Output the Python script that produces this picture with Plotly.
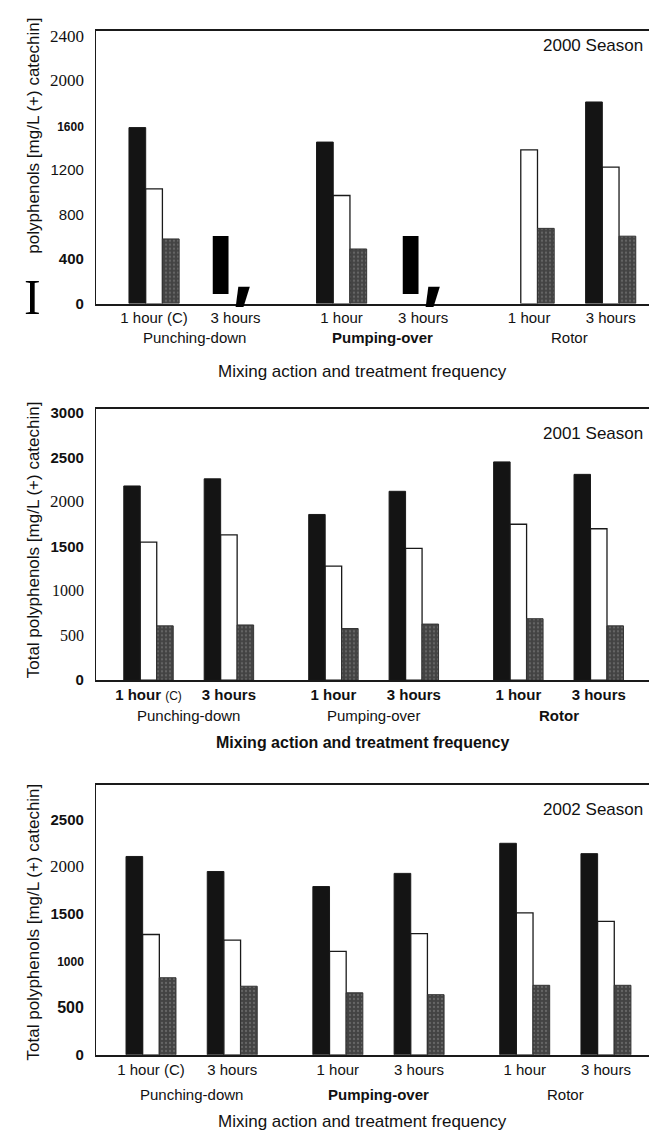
import plotly.graph_objects as go

# ---------------- data ----------------
FREQ_LABELS = ["1 hour (C)", "3 hours", "1 hour", "3 hours", "1 hour", "3 hours"]
ACTIONS = ["Punching-down", "Pumping-over", "Rotor"]
ACTION_OF = [0, 0, 1, 1, 2, 2]
SEASONS = ["2000 Season", "2001 Season", "2002 Season"]
X_TITLE = "Mixing action and treatment frequency"
Y_TITLE = "Total polyphenols [mg/L (+) catechin]"
Y_TITLE_2000 = "polyphenols [mg/L (+) catechin]"

S2000_DARK = [1580, None, 1450, None, None, 1810]
S2000_WHITE = [1030, None, 970, None, 1380, 1225]
S2000_GREY = [580, None, 490, None, 675, 605]

S2001_DARK = [2180, 2260, 1860, 2120, 2450, 2310]
S2001_WHITE = [1550, 1630, 1280, 1480, 1750, 1700]
S2001_GREY = [610, 620, 580, 630, 690, 610]

S2002_DARK = [2110, 1950, 1790, 1930, 2250, 2140]
S2002_WHITE = [1280, 1220, 1100, 1290, 1510, 1420]
S2002_GREY = [820, 730, 660, 640, 740, 740]

Y_TICKS_2000 = [0, 400, 800, 1200, 1600, 2000, 2400]
Y_TICKS_2001 = [0, 500, 1000, 1500, 2000, 2500, 3000]
Y_TICKS_2002 = [0, 500, 1000, 1500, 2000, 2500]

# ---------------- styles ----------------
W, H = 649, 1138
SANS = "Liberation Sans"
SERIF = "Liberation Serif"
GROUP_GAP = 0.3

PANELS = [
    dict(top=26, bottom=302, yr=[0, 2450], xr=[-0.712, 6.07], season_dy=15,
         grp_dy=34, title_dy=68, ytitle_dy=31),
    dict(top=409, bottom=683, yr=[0, 3040], xr=[-0.653, 6.225], season_dy=24,
         grp_dy=35, title_dy=62, ytitle_dy=5),
    dict(top=789, bottom=1062, yr=[0, 2870], xr=[-0.677, 6.13], season_dy=25,
         grp_dy=40, title_dy=67, ytitle_dy=-2),
]
TICK_STYLES = [
    ["b15", "b15", "r15", "r15", "b12", "s17", "s17"],
    ["b15", "s16", "s16", "b15", "s17", "b15", "b15"],
    ["b15", "b16", "b12", "b15", "s17", "b15"],
]
GROUP_BOLD = [[False, True, False], [False, False, True], [False, True, False]]
XTITLE_BOLD = [False, True, False]

DARK = "#141414"
GREY_BG = "#434343"
GREY_FG = "#8a8a8a"
LINE = "#1a1a1a"


def styled_tick(val, code):
    kind, size = code[0], int(code[1:])
    fam = SERIF if kind == "s" else SANS
    txt = f"<b>{val}</b>" if kind == "b" else f"{val}"
    return f"<span style=\"font-family:'{fam}';font-size:{size}px\">{txt}</span>"


xpos = [i + ACTION_OF[i] * GROUP_GAP for i in range(len(FREQ_LABELS))]
group_centers = [
    sum(p for p, a in zip(xpos, ACTION_OF) if a == g) / ACTION_OF.count(g)
    for g in range(len(ACTIONS))
]

series = [
    (S2000_DARK, S2000_WHITE, S2000_GREY, Y_TICKS_2000),
    (S2001_DARK, S2001_WHITE, S2001_GREY, Y_TICKS_2001),
    (S2002_DARK, S2002_WHITE, S2002_GREY, Y_TICKS_2002),
]

fig = go.Figure()
annotations = []
layout = {}

for k, (dark, white, grey, yt) in enumerate(series):
    n = "" if k == 0 else str(k + 1)
    xa, ya = "x" + n, "y" + n
    p = PANELS[k]
    fig.add_trace(go.Bar(x=xpos, y=dark, xaxis=xa, yaxis=ya, name="Dark",
                         marker=dict(color=DARK, line=dict(color=LINE, width=1))))
    fig.add_trace(go.Bar(x=xpos, y=white, xaxis=xa, yaxis=ya, name="White",
                         marker=dict(color="white", line=dict(color=LINE, width=1.3))))
    fig.add_trace(go.Bar(x=xpos, y=grey, xaxis=xa, yaxis=ya, name="Grey",
                         marker=dict(color=GREY_BG, line=dict(color="#333", width=1),
                                     pattern=dict(shape=".", fgcolor=GREY_FG, bgcolor=GREY_BG,
                                                  size=4, solidity=0.25))))

    if k == 1:
        ticktext = [f"<b>{t.replace(' (C)', '')}</b>" + (" <span style='font-size:12px'>(C)</span>" if "(C)" in t else "")
                    for t in FREQ_LABELS]
    else:
        ticktext = list(FREQ_LABELS)

    layout["xaxis" + n] = dict(
        domain=[96 / W, 1], range=p["xr"], anchor=ya,
        tickmode="array", tickvals=xpos, ticktext=ticktext,
        tickfont=dict(family=SANS, size=15, color="#111"),
        showgrid=False, zeroline=False, showline=True, linecolor=LINE,
        linewidth=1.6, mirror=True, ticks="",
    )
    layout["yaxis" + n] = dict(
        domain=[1 - p["bottom"] / H, 1 - p["top"] / H], range=p["yr"], anchor=xa,
        tickmode="array", tickvals=yt,
        ticktext=[styled_tick(v, c) for v, c in zip(yt, TICK_STYLES[k])],
        tickfont=dict(family=SANS, size=15, color="#111"),
        showgrid=False, zeroline=False, showline=True, linecolor=LINE,
        linewidth=1.2, mirror=False, ticks="", ticklabelstandoff=8,
    )

    yd = ya + " domain"
    annotations.append(dict(text=SEASONS[k], xref="paper", x=645 / W, xanchor="right",
                            yref=yd, y=1, yshift=-p["season_dy"], yanchor="middle",
                            showarrow=False, font=dict(family=SANS, size=17, color="#111")))
    for g, name in enumerate(ACTIONS):
        annotations.append(dict(text=f"<b>{name}</b>" if GROUP_BOLD[k][g] else name,
                                xref=xa, x=group_centers[g], yref=yd, y=0,
                                yshift=-p["grp_dy"], yanchor="middle", showarrow=False,
                                font=dict(family=SANS, size=15, color="#111")))
    annotations.append(dict(text=f"<b>{X_TITLE}</b>" if XTITLE_BOLD[k] else X_TITLE,
                            xref="paper", x=363 / W, yref=yd, y=0,
                            yshift=-p["title_dy"], yanchor="middle", showarrow=False,
                            font=dict(family=SANS, size=16 if XTITLE_BOLD[k] else 17, color="#111")))
    annotations.append(dict(text=Y_TITLE_2000 if k == 0 else Y_TITLE, textangle=-90,
                            xref="paper", x=22 / W, yref=yd, y=0.5, yshift=p["ytitle_dy"],
                            showarrow=False, font=dict(family=SANS, size=17, color="#111")))

# scan artefacts that appear as text in the reference panel 1
annotations.append(dict(text="I", xref="paper", x=22 / W, yref="paper", y=1 - 295 / H,
                        yanchor="middle", showarrow=False,
                        font=dict(family=SERIF, size=50, color="#000")))
for xl in (207, 397):
    annotations.append(dict(text="I<span style='font-size:62px'>,</span>", xref="paper",
                            x=xl / W, xanchor="left",
                            yref="paper", y=1 - 262 / H, yanchor="middle", showarrow=False,
                            font=dict(family="Inter", size=80, color="#000", weight=900)))

fig.update_layout(
    width=W, height=H, autosize=False,
    margin=dict(l=0, r=0, t=0, b=0),
    paper_bgcolor="white", plot_bgcolor="white",
    barmode="group", bargap=0.385, bargroupgap=0,
    showlegend=False,
    annotations=annotations,
    **layout,
)

fig.write_html(
    "out.html",
    config={"displayModeBar": False},
    post_script="document.body.style.margin='0';document.body.style.overflow='hidden';",
)
